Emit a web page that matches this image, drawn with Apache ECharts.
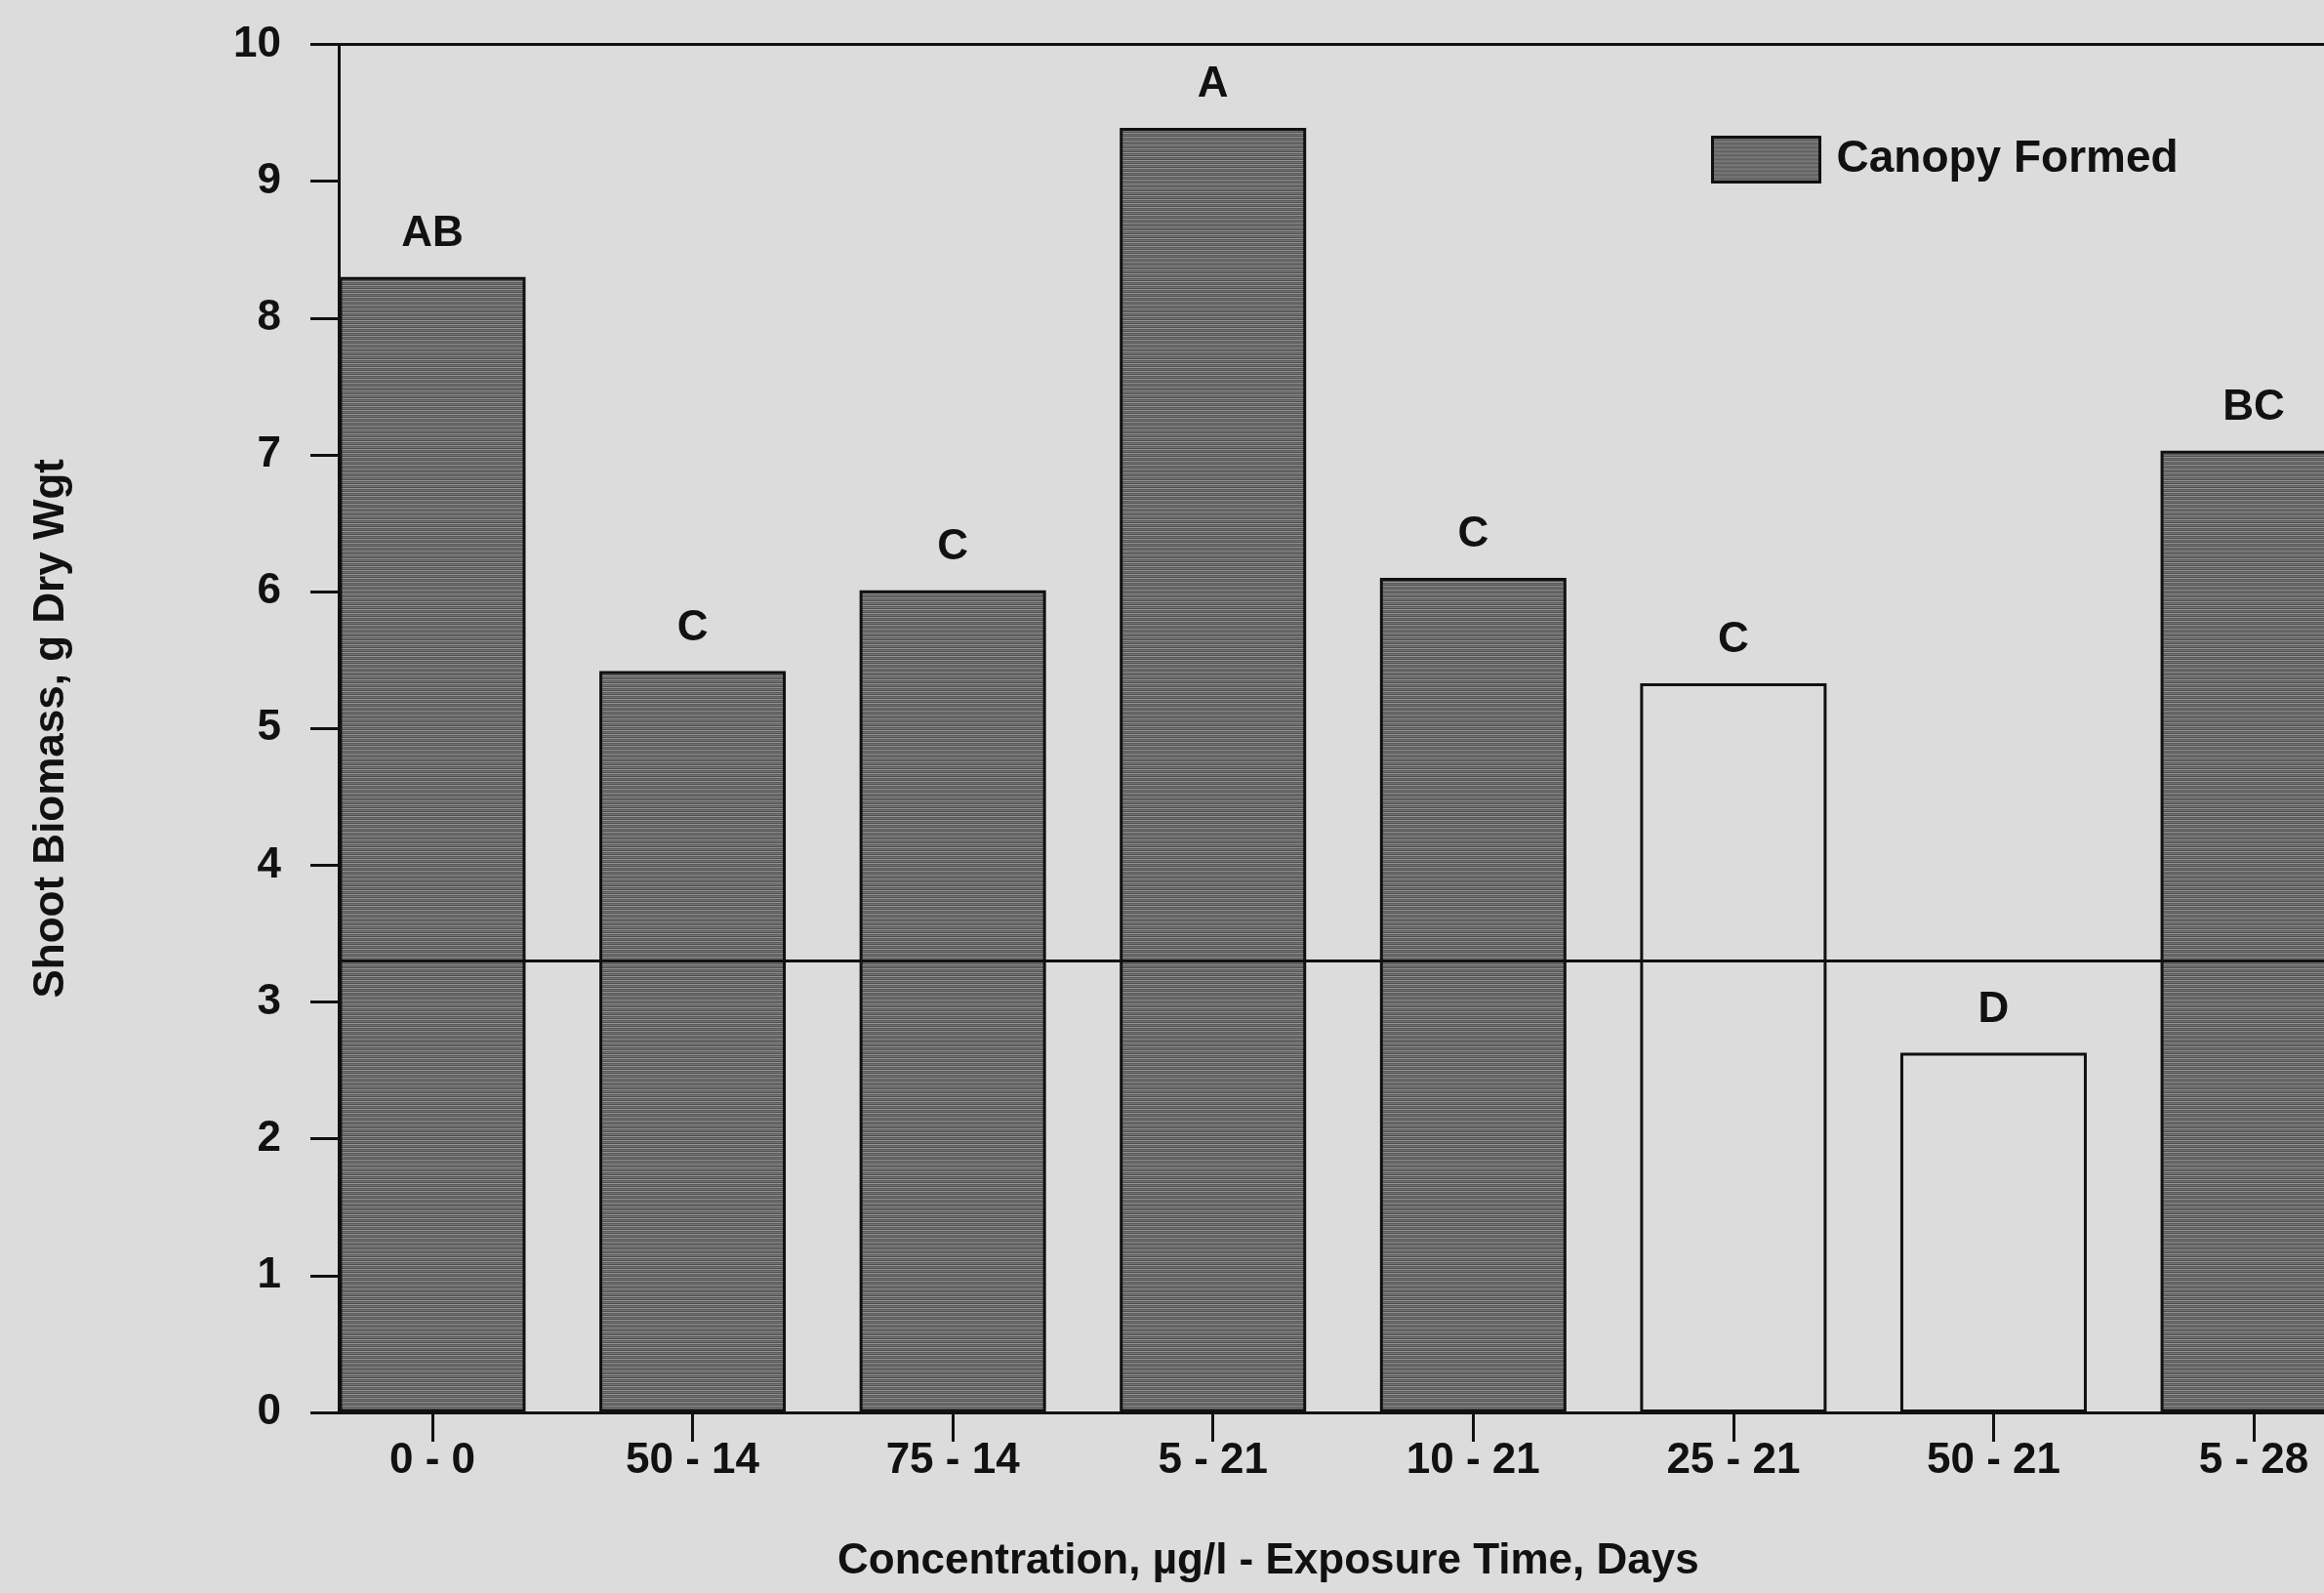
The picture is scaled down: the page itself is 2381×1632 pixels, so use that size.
<!DOCTYPE html>
<html>
<head>
<meta charset="utf-8">
<script src="https://cdn.jsdelivr.net/npm/echarts@6/dist/echarts.min.js"></script>
<style>
  html, body { margin: 0; padding: 0; background: #dcdcdc; overflow: hidden; }
  #chart { width: 2500px; height: 1632px; }
</style>
</head>
<body>
<div id="chart"></div>
<script>
// Treatment: concentration (ug/l) - exposure time (days)
const categories = ['0 - 0', '50 - 14', '75 - 14', '5 - 21', '10 - 21', '25 - 21', '50 - 21', '5 - 28'];
// Shoot biomass, g dry weight
const biomass = [8.30, 5.42, 6.01, 9.39, 6.10, 5.33, 2.63, 7.03];
// Whether a canopy was formed for the treatment
const canopyFormed = [true, true, true, true, true, false, false, true];
// Significance groups printed above the bars
const groupLetters = ['AB', 'C', 'C', 'A', 'C', 'C', 'D', 'BC'];
// Horizontal reference level
const referenceLevel = 3.3;

const FONT = 'Liberation Sans, Arial, Helvetica, sans-serif';
const INK = '#111111';
const PAPER = '#dcdcdc';

// Horizontal-line screen texture for the filled bars
function stripeTexture() {
  const c = document.createElement('canvas');
  c.width = 8; c.height = 4;
  const ctx = c.getContext('2d');
  const rows = ['#949494', '#5a5a5a', '#747474', '#4e4e4e'];
  rows.forEach((col, i) => { ctx.fillStyle = col; ctx.fillRect(0, i, 8, 1); });
  return c;
}
const barFill = { image: stripeTexture(), repeat: 'repeat' };

const catIndex = categories.map((_, i) => i);
const barData = biomass.map((v, i) => {
  const item = { value: [i, v] };
  if (!canopyFormed[i]) {
    item.itemStyle = { color: PAPER, borderColor: INK, borderWidth: 3 };
  }
  return item;
});

const textBase = { fontFamily: FONT, fontSize: 44, fontWeight: 'bold', color: INK };

const chart = echarts.init(document.getElementById('chart'), null, { renderer: 'canvas' });
chart.setOption({
  backgroundColor: PAPER,
  animation: false,
  grid: { left: 347, top: 45.5, width: 2122, height: 1401.5, containLabel: false },
  legend: {
    left: 1748, top: 134,
    itemWidth: 110, itemHeight: 46, itemGap: 20,
    icon: 'rect',
    textStyle: Object.assign({}, textBase, { fontSize: 46, padding: [0, 0, 0, 12] }),
    data: [{ name: 'Canopy Formed', itemStyle: { color: barFill, borderColor: INK, borderWidth: 3 } }]
  },
  xAxis: [
    {
      type: 'value', position: 'bottom', min: -0.36, max: 7.6,
      splitLine: { show: false },
      axisLine: { show: true, onZero: false, lineStyle: { color: INK, width: 3 } },
      axisTick: { show: true, customValues: catIndex, length: 30, lineStyle: { color: INK, width: 3 } },
      axisLabel: Object.assign({}, textBase, {
        customValues: catIndex, margin: 28,
        formatter: v => categories[Math.round(v)]
      })
    },
    {
      type: 'value', position: 'top', min: -0.36, max: 7.6,
      splitLine: { show: false },
      axisLine: { show: true, onZero: false, lineStyle: { color: INK, width: 3 } },
      axisTick: { show: false },
      axisLabel: { show: false }
    }
  ],
  yAxis: {
    type: 'value', min: 0, max: 10, interval: 1,
    splitLine: { show: false },
    axisLine: { show: true, onZero: false, lineStyle: { color: INK, width: 3 } },
    axisTick: { show: true, length: 29, lineStyle: { color: INK, width: 3 } },
    axisLabel: Object.assign({}, textBase, { margin: 59 }),
    name: 'Shoot Biomass, g Dry Wgt',
    nameLocation: 'middle',
    nameRotate: 90,
    nameGap: 272,
    nameTextStyle: textBase
  },
  graphic: [{
    type: 'text', left: 858, top: 1578,
    style: { text: 'Concentration, \u00b5g/l - Exposure Time, Days', font: 'bold 44px ' + FONT, fill: INK }
  }],
  series: [{
    name: 'Canopy Formed',
    type: 'bar',
    barWidth: 191,
    data: barData,
    itemStyle: { color: barFill, borderColor: INK, borderWidth: 3 },
    label: Object.assign({}, textBase, {
      show: true, position: 'top', distance: 22,
      formatter: p => groupLetters[p.dataIndex]
    }),
    markLine: {
      silent: true,
      symbol: ['none', 'none'],
      label: { show: false },
      lineStyle: { color: INK, width: 3, type: 'solid' },
      data: [{ yAxis: referenceLevel }]
    }
  }]
});
</script>
</body>
</html>
